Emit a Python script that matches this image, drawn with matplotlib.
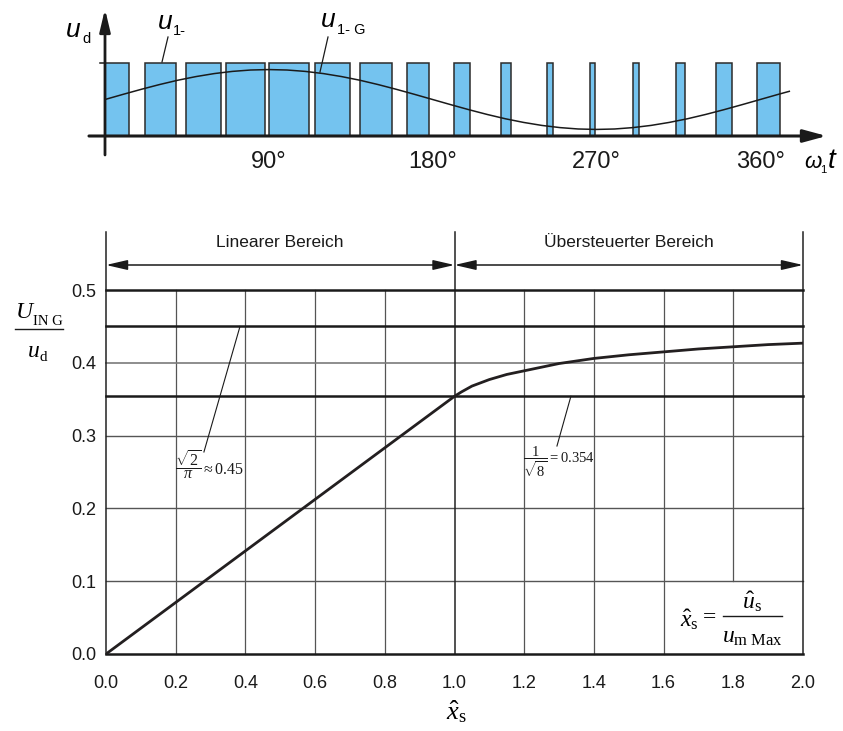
import matplotlib
matplotlib.use('Agg')
import matplotlib.pyplot as plt

plt.rcParams['font.family'] = ['Liberation Sans', 'DejaVu Sans']
plt.rcParams['mathtext.fontset'] = 'custom'
plt.rcParams['mathtext.rm'] = 'Liberation Serif'
plt.rcParams['mathtext.it'] = 'Liberation Serif:italic'
plt.rcParams['mathtext.bf'] = 'Liberation Serif:bold'

# ---------------- data: top chart (angle in degrees, level normalised to u_d) ----------------
pulse_start = [0.0, 22.0, 44.5, 66.5, 90.1, 115.4, 140.1, 165.9, 191.8, 217.6,
               242.9, 266.5, 290.1, 313.7, 335.7, 358.2]
pulse_end = [13.2, 39.0, 63.7, 87.9, 112.1, 134.6, 157.7, 178.0, 200.5, 223.1,
             246.2, 269.2, 293.4, 318.7, 344.5, 370.9]
fund_deg = [0, 10, 20, 30, 40, 50, 60, 70, 80, 90, 100, 110, 120, 130, 140, 150, 160, 170,
            180, 190, 200, 210, 220, 230, 240, 250, 260, 270, 280, 290, 300, 310, 320, 330,
            340, 350, 360, 370, 376]
fund_level = [0.50, 0.571, 0.640, 0.705, 0.764, 0.814, 0.855, 0.885, 0.904, 0.910, 0.904,
              0.885, 0.855, 0.814, 0.764, 0.705, 0.640, 0.571, 0.50, 0.429, 0.360, 0.295,
              0.236, 0.186, 0.145, 0.115, 0.096, 0.090, 0.096, 0.115, 0.145, 0.186, 0.236,
              0.295, 0.360, 0.429, 0.50, 0.571, 0.612]
top_ticks = [90, 180, 270, 360]

# ---------------- data: bottom chart ----------------
curve_x = [0.0, 1.0, 1.02, 1.05, 1.1, 1.15, 1.2, 1.25, 1.3, 1.4, 1.5, 1.6, 1.7, 1.8, 1.9, 2.0]
curve_y = [0.0, 0.354, 0.360, 0.368, 0.377, 0.384, 0.389, 0.394, 0.399, 0.406, 0.411,
           0.415, 0.419, 0.422, 0.425, 0.427]
x_ticks = [0.0, 0.2, 0.4, 0.6, 0.8, 1.0, 1.2, 1.4, 1.6, 1.8, 2.0]
y_ticks = [0.0, 0.1, 0.2, 0.3, 0.4, 0.5]
level_sqrt2_pi = 0.45
level_inv_sqrt8 = 0.354

W, H = 843, 731
fig = plt.figure(figsize=(W / 100, H / 100), dpi=100)


def P(x, y):
    return x / W, 1 - y / H


# ======================= top chart =======================
PXD = 1.82  # px per degree
X0, Y0, LV = 105, 136, 73
axt = fig.add_axes([60 / W, 1 - 170 / H, 780 / W, 170 / H])
axt.set_xlim((60 - X0) / PXD, (840 - X0) / PXD)
axt.set_ylim((Y0 - 170) / LV, Y0 / LV)
axt.axis('off')

widths = [e - s for s, e in zip(pulse_start, pulse_end)]
axt.bar(pulse_start, [1.0] * len(pulse_start), width=widths, align='edge',
        color='#74c3ef', edgecolor='#2b2b2b', linewidth=1.1, zorder=2)
axt.plot(fund_deg, fund_level, color='#1a1a1a', lw=1.1, zorder=3)

# axes arrows
axt.annotate('', xy=(396.5, 0), xytext=(-8.8, 0),
             arrowprops=dict(arrowstyle='-|>,head_length=1.4,head_width=0.38',
                             color='#1a1a1a', lw=2.2, mutation_scale=10,
                             shrinkA=0, shrinkB=0), zorder=4)
axt.annotate('', xy=(0, 1.74), xytext=(0, -0.26),
             arrowprops=dict(arrowstyle='-|>,head_length=1.35,head_width=0.32',
                             color='#1a1a1a', lw=2.0, mutation_scale=10,
                             shrinkA=0, shrinkB=0), zorder=4)
axt.plot([-5 / PXD, 0], [1, 1], color='#1a1a1a', lw=1.1, zorder=4)

for d in top_ticks:
    axt.text(d, (Y0 - 168) / LV, f'{d}°', ha='center', va='baseline', fontsize=17,
             color='#1a1a1a')

# labels
fig.text(*P(66, 37), 'u', fontsize=19, style='italic', ha='left', va='baseline')
fig.text(*P(82, 43), 'd', fontsize=10.5, ha='left', va='baseline')
fig.text(*P(158, 29), 'u', fontsize=19, style='italic', ha='left', va='baseline')
fig.text(*P(173, 35), '1-', fontsize=10.5, ha='left', va='baseline')
fig.text(*P(321, 27), 'u', fontsize=19, style='italic', ha='left', va='baseline')
fig.text(*P(337, 34), '1- G', fontsize=10.5, ha='left', va='baseline')
fig.text(*P(804, 168), 'ω', fontsize=16, style='italic', ha='left', va='baseline')
fig.text(*P(820, 173), '1', fontsize=8, ha='left', va='baseline')
fig.text(*P(828, 168), 't', fontsize=20, style='italic', ha='left', va='baseline')

# leader lines top
axt.plot([(168 - X0) / PXD, (162 - X0) / PXD], [(Y0 - 37) / LV, (Y0 - 62) / LV],
         color='#1a1a1a', lw=0.9, zorder=5)
axt.plot([(328 - X0) / PXD, (320 - X0) / PXD], [(Y0 - 37) / LV, (Y0 - 72) / LV],
         color='#1a1a1a', lw=0.9, zorder=5)

# ======================= bottom chart =======================
ax = fig.add_axes([106 / W, 1 - 654 / H, 697 / W, 422 / H])
ymax = 422 / 728
ax.set_xlim(0, 2)
ax.set_ylim(0, ymax)
for s in ax.spines.values():
    s.set_visible(False)

# grid
for xv in x_ticks:
    if xv in (0.0, 1.0, 2.0):
        ax.plot([xv, xv], [0, ymax], color='#222222', lw=1.1, clip_on=False, zorder=2)
    elif xv == 1.8:
        ax.plot([xv, xv], [0.1, 0.5], color='#555555', lw=0.9, clip_on=False, zorder=1)
    else:
        ax.plot([xv, xv], [0, 0.5], color='#555555', lw=0.9, clip_on=False, zorder=1)
for yv in y_ticks:
    if yv in (0.0, 0.5):
        ax.plot([0, 2], [yv, yv], color='#1a1a1a', lw=1.8, clip_on=False, zorder=3)
    elif yv == 0.4:
        ax.plot([0, 2], [yv, yv], color='#7a7a7a', lw=1.2, clip_on=False, zorder=1)
    else:
        ax.plot([0, 2], [yv, yv], color='#555555', lw=1.0, clip_on=False, zorder=1)
for yv in (level_sqrt2_pi, level_inv_sqrt8):
    ax.plot([0, 2], [yv, yv], color='#1a1a1a', lw=1.8, clip_on=False, zorder=3)

ax.plot(curve_x, curve_y, color='#231f20', lw=2.0, zorder=4, solid_capstyle='round',
        solid_joinstyle='round')

ax.set_xticks(x_ticks)
ax.set_xticklabels([f'{v:.1f}' for v in x_ticks])
ax.set_yticks(y_ticks)
ax.set_yticklabels([f'{v:.1f}' for v in y_ticks])
ax.tick_params(axis='x', length=0, pad=15, labelsize=13, colors='#1a1a1a')
ax.tick_params(axis='y', length=0, pad=7, labelsize=13, colors='#1a1a1a')

# region arrows
yarr = (654 - 265) / 728
ytxt = (654 - 242) / 728
for a, b in ((0.0, 1.0), (1.0, 2.0)):
    ax.annotate('', xy=(a, yarr), xytext=(b, yarr),
                arrowprops=dict(arrowstyle='<|-|>,head_length=1.3,head_width=0.3',
                                color='#1a1a1a', lw=1.1, mutation_scale=10,
                                shrinkA=0, shrinkB=0), annotation_clip=False)
ax.text(0.5, ytxt, 'Linearer Bereich', ha='center', va='center', fontsize=12.5,
        color='#1a1a1a')
ax.text(1.5, ytxt, 'Übersteuerter Bereich', ha='center', va='center', fontsize=12.5,
        color='#1a1a1a')

# annotation leaders
ax.plot([0.3845, 0.281], [level_sqrt2_pi, 0.2775], color='#1a1a1a', lw=0.8, zorder=5)
ax.plot([1.334, 1.294], [level_inv_sqrt8, 0.2857], color='#1a1a1a', lw=0.8, zorder=5)
ax.text(0.298, 0.2596, r'$\dfrac{\sqrt{2}}{\pi}\approx 0.45$', ha='center', va='center',
        fontsize=11.5, color='#1a1a1a')
ax.text(1.30, 0.264, r'$\dfrac{1}{\sqrt{8}}= 0.354$', ha='center', va='center',
        fontsize=10.5, color='#1a1a1a')

# formula box (built from pieces)
fig.text(*P(680, 627), r'$\hat{x}_{\mathrm{s}}$', fontsize=17, ha='left', va='baseline')
fig.text(*P(710, 623), '=', fontsize=17, family='Liberation Serif', ha='center',
         va='baseline')
fig.add_artist(plt.Line2D([723 / W, 782 / W], [1 - 616 / H, 1 - 616 / H], color='#1a1a1a',
                          lw=1.0))
fig.text(*P(752, 609), r'$\hat{u}_{\mathrm{s}}$', fontsize=17, ha='center', va='baseline')
fig.text(*P(752, 643), r'$u_{\mathrm{m\ Max}}$', fontsize=17, ha='center', va='baseline')

# axis labels
fig.text(*P(446, 712), r'$\hat{x}_{\mathrm{s}}$', fontsize=19, ha='left', va='center')
fig.text(*P(15, 318), r'$U$', fontsize=17, ha='left', va='baseline')
fig.text(*P(33, 325), 'IN G', fontsize=10.5, family='Liberation Serif', ha='left',
         va='baseline')
fig.add_artist(plt.Line2D([15 / W, 63 / W], [1 - 329 / H, 1 - 329 / H], color='#1a1a1a',
                          lw=1.0))
fig.text(*P(27, 357), r'$u$', fontsize=17, ha='left', va='baseline')
fig.text(*P(39.5, 361), 'd', fontsize=11, family='Liberation Serif', ha='left',
         va='baseline')

fig.savefig('out.png', dpi=100, facecolor='white')
